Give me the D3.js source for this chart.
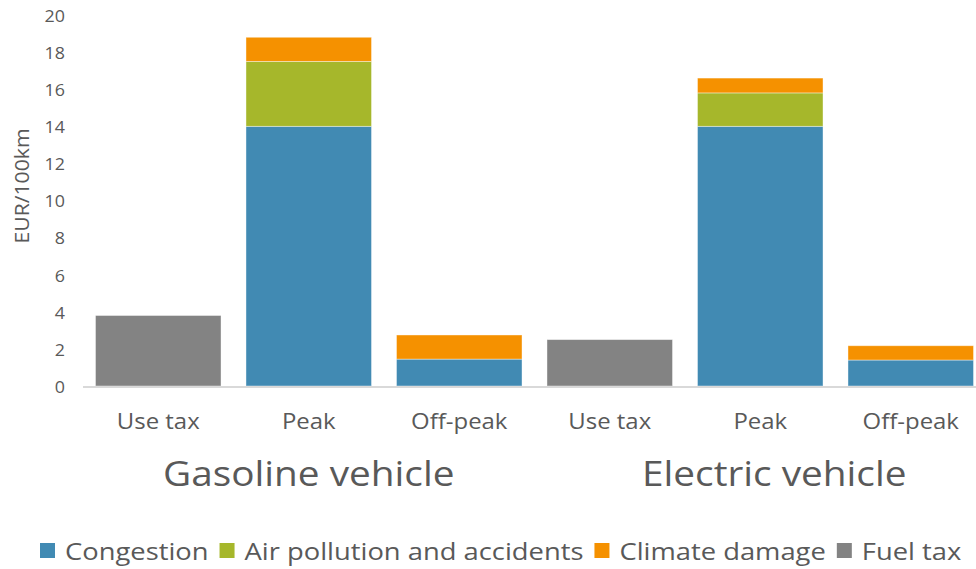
<!DOCTYPE html>
<html>
<head>
<meta charset="utf-8">
<script src="https://cdn.jsdelivr.net/npm/d3@7"></script>
<style>
  html, body { margin: 0; padding: 0; background: #fff; }
  svg { display: block; }
  text { font-family: "Open Sans", Lato, sans-serif; fill: #595959; }
</style>
</head>
<body>
<svg id="chart" width="976" height="569"></svg>
<script>
// Cost per 100 km by pricing scheme and vehicle type
const categories = ["Use tax", "Peak", "Off-peak", "Use tax", "Peak", "Off-peak"];
const groups = ["Gasoline vehicle", "Electric vehicle"];
const congestion = [0, 14.0, 1.45, 0, 14.0, 1.4];
const airPollution = [0, 3.5, 0, 0, 1.8, 0];
const climateDamage = [0, 1.3, 1.3, 0, 0.8, 0.77];
const fuelTax = [3.8, 0, 0, 2.5, 0, 0];
const seriesNames = ["Congestion", "Air pollution and accidents", "Climate damage", "Fuel tax"];
const seriesColors = ["#418AB3", "#A6B72B", "#F59100", "#838383"];
const yTicks = [0, 2, 4, 6, 8, 10, 12, 14, 16, 18, 20];

const svg = d3.select("#chart");
const W = 976, H = 569;
const SX = 1.14; // horizontal text stretch

const rows = categories.map((c, i) => ({
  idx: i,
  "Congestion": congestion[i],
  "Air pollution and accidents": airPollution[i],
  "Climate damage": climateDamage[i],
  "Fuel tax": fuelTax[i]
}));

const x = d3.scaleBand().domain(d3.range(categories.length)).range([83, 986]).paddingInner(0.166).paddingOuter(0.083);
const y = d3.scaleLinear().domain([0, 20]).range([386, 15]);
const color = d3.scaleOrdinal().domain(seriesNames).range(seriesColors);

const layers = d3.stack().keys(seriesNames)(rows);

// y tick labels
svg.append("g").selectAll("text").data(yTicks).join("text")
  .attr("transform", d => `translate(65,${y(d)}) scale(1.05,1)`)
  .attr("text-anchor", "end").attr("dominant-baseline", "central")
  .style("font-size", "17px")
  .text(d => d);

// axis title
svg.append("text")
  .attr("transform", "translate(29,186) rotate(-90) scale(1.06,1)")
  .attr("text-anchor", "middle")
  .style("font-size", "20px")
  .text("EUR/100km");

// stacked bars
svg.append("g").selectAll("g").data(layers).join("g")
  .attr("fill", d => color(d.key))
  .selectAll("rect").data(d => d.filter(p => p[1] - p[0] > 0)).join("rect")
  .attr("x", d => x(d.data.idx))
  .attr("width", x.bandwidth())
  .attr("y", d => y(d[1]))
  .attr("height", d => y(d[0]) - y(d[1]))
  .attr("stroke", "#ffffff")
  .attr("stroke-opacity", 0.5)
  .attr("stroke-width", 0.8);

// baseline
svg.append("line")
  .attr("x1", 83).attr("x2", W)
  .attr("y1", y(0) + 1).attr("y2", y(0) + 1)
  .attr("stroke", "#D9D9D9").attr("stroke-width", 2);

// category labels
svg.append("g").selectAll("text").data(categories).join("text")
  .attr("transform", (d, i) => `translate(${x(i) + x.bandwidth() / 2},421) scale(${SX},1)`)
  .attr("text-anchor", "middle").attr("dominant-baseline", "central")
  .style("font-size", "21px")
  .text(d => d);

// group labels, centred under each group of three categories
const groupShift = [0, 14];
svg.append("g").selectAll("text").data(groups).join("text")
  .attr("transform", (d, i) => `translate(${x(i * 3 + 1) + x.bandwidth() / 2 + groupShift[i]},473) scale(${SX},1)`)
  .attr("text-anchor", "middle").attr("dominant-baseline", "central")
  .style("font-size", "34px")
  .text(d => d);

// legend
const legend = svg.append("g").attr("transform", "translate(40,551)");
let lx = 0;
seriesNames.forEach((name, i) => {
  const g = legend.append("g").attr("transform", `translate(${lx},0)`);
  g.append("rect").attr("x", 0).attr("y", -8).attr("width", 15).attr("height", 15).attr("fill", seriesColors[i]);
  const t = g.append("text").attr("transform", `translate(25,0) scale(${SX},1)`)
    .attr("dominant-baseline", "central")
    .style("font-size", "24px").text(name);
  lx += 25 + t.node().getComputedTextLength() * SX + 11;
});
</script>
</body>
</html>
